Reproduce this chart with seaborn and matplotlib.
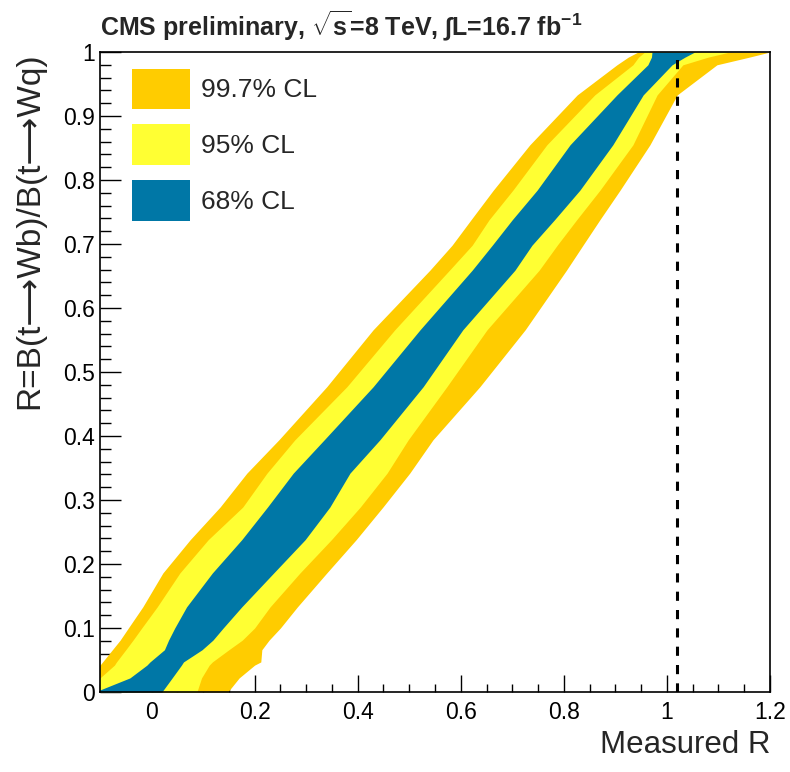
import matplotlib
matplotlib.use("Agg")
import matplotlib.pyplot as plt
from matplotlib.patches import Patch
from matplotlib.ticker import MultipleLocator
import pandas as pd
import seaborn as sns

# Feldman-Cousins confidence belt: for each true R, the accepted interval of measured R
true_r = [0.000, 0.022, 0.042, 0.047, 0.066, 0.081, 0.100, 0.133, 0.186, 0.238,
          0.289, 0.342, 0.394, 0.477, 0.566, 0.659, 0.698, 0.738, 0.784, 0.855,
          0.933, 0.980, 0.992, 1.000]
cl997_lo = [-0.160, -0.130, -0.100, -0.095, -0.076, -0.061, -0.045, -0.017, 0.022, 0.075,
            0.133, 0.185, 0.247, 0.340, 0.430, 0.540, 0.583, 0.620, 0.663, 0.734,
            0.826, 0.903, 0.925, 0.944]
cl95_lo = [-0.130, -0.100, -0.072, -0.068, -0.050, -0.036, -0.019, 0.011, 0.055, 0.110,
           0.177, 0.224, 0.278, 0.379, 0.472, 0.578, 0.622, 0.655, 0.701, 0.767,
           0.860, 0.934, 0.945, 0.957]
cl68_lo = [-0.110, -0.042, -0.009, -0.003, 0.025, 0.033, 0.045, 0.068, 0.118, 0.175,
           0.225, 0.275, 0.335, 0.430, 0.521, 0.622, 0.661, 0.700, 0.748, 0.812,
           0.903, 0.963, 0.970, 0.971]
cl68_hi = [0.020, 0.040, 0.058, 0.062, 0.098, 0.119, 0.139, 0.175, 0.237, 0.298,
           0.346, 0.385, 0.443, 0.527, 0.604, 0.705, 0.738, 0.782, 0.831, 0.895,
           0.954, 1.010, 1.035, 1.054]
cl95_hi = [0.088, 0.097, 0.112, 0.118, 0.150, 0.176, 0.200, 0.230, 0.288, 0.349,
           0.405, 0.457, 0.498, 0.573, 0.651, 0.752, 0.787, 0.825, 0.870, 0.934,
           0.981, 1.031, 1.080, 1.122]
cl997_hi = [0.148, 0.170, 0.200, 0.212, 0.214, 0.228, 0.250, 0.283, 0.340, 0.397,
            0.449, 0.501, 0.546, 0.637, 0.725, 0.805, 0.837, 0.870, 0.909, 0.967,
            1.020, 1.097, 1.160, 1.200]

band_labels = ["99.7% CL", "95% CL", "68% CL"]
band_colors = ["#FFCC00", "#FFFF33", "#0077A6"]

measured_value = 1.02

x_ticks = [0, 0.2, 0.4, 0.6, 0.8, 1.0, 1.2]
x_tick_labels = ["0", "0.2", "0.4", "0.6", "0.8", "1", "1.2"]
y_ticks = [0, 0.1, 0.2, 0.3, 0.4, 0.5, 0.6, 0.7, 0.8, 0.9, 1.0]
y_tick_labels = ["0", "0.1", "0.2", "0.3", "0.4", "0.5", "0.6", "0.7", "0.8", "0.9", "1"]

belt = pd.DataFrame({
    "true_r": true_r,
    "lo997": cl997_lo, "hi997": cl997_hi,
    "lo95": cl95_lo, "hi95": cl95_hi,
    "lo68": cl68_lo, "hi68": cl68_hi,
})

sns.set_theme(style="ticks")
plt.rcParams["font.family"] = ["Liberation Sans", "DejaVu Sans"]
plt.rcParams["mathtext.fontset"] = "custom"
plt.rcParams["mathtext.rm"] = "Liberation Sans"
plt.rcParams["mathtext.bf"] = "Liberation Sans:bold"
plt.rcParams["mathtext.it"] = "Liberation Sans:italic"

fig = plt.figure(figsize=(7.9, 7.72), dpi=100)
ax = fig.add_axes([100 / 790, 80 / 772, 670 / 790, 640 / 772])

# nested bands, widest first
for (lo, hi), color in zip([("lo997", "hi997"), ("lo95", "hi95"), ("lo68", "hi68")], band_colors):
    ax.fill_betweenx(belt["true_r"], belt[lo], belt[hi], color=color, lw=0, zorder=1)

# observed value
obs = pd.DataFrame({"x": [measured_value, measured_value], "y": [0.0, 1.0]})
sns.lineplot(data=obs, x="x", y="y", orient="y", estimator=None, ax=ax,
             color="black", lw=2.2, linestyle=(0, (3, 3)), zorder=3)

ax.set_xlim(-0.1, 1.2)
ax.set_ylim(0, 1)
ax.set_xticks(x_ticks, x_tick_labels)
ax.set_yticks(y_ticks, y_tick_labels)
ax.xaxis.set_minor_locator(MultipleLocator(0.05))
ax.yaxis.set_minor_locator(MultipleLocator(0.02))
ax.tick_params(which="both", direction="in", top=False, right=False,
               colors="black", width=1.0, labelsize=16.5)
ax.tick_params(axis="x", which="major", length=12, pad=6.5)
ax.tick_params(axis="x", which="minor", length=6)
ax.tick_params(axis="y", which="major", length=15, pad=3.5)
ax.tick_params(axis="y", which="minor", length=8)
for sp in ax.spines.values():
    sp.set_visible(True)
    sp.set_color("black")
    sp.set_linewidth(1.2)

ax.set_xlabel("Measured R", fontsize=22.5, loc="right")
ax.xaxis.set_label_coords(1.0, -0.060)
ax.set_ylabel("R=B(t\u27f6Wb)/B(t\u27f6Wq)", fontsize=24, loc="top")
ax.yaxis.set_label_coords(-0.082, 1.0)

handles = [Patch(facecolor=c, edgecolor="none") for c in band_colors]
ax.legend(handles, band_labels, loc="upper left", bbox_to_anchor=(0.048, 0.974),
          frameon=False, fontsize=19, handlelength=2.2, handleheight=2.0,
          labelspacing=0.56, handletextpad=0.4, borderpad=0, borderaxespad=0)

fig.text(100 / 790, 1 - 35 / 772,
         r"CMS preliminary, $\sqrt{\mathbf{s}}$=8 TeV, ∫L=16.7 fb$^{\mathbf{-1}}$",
         fontsize=18, fontweight="bold", va="baseline", ha="left")

fig.savefig("out.png", dpi=100)
